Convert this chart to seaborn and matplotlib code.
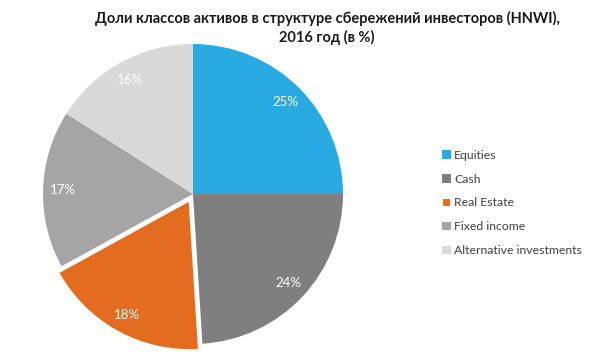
import matplotlib
matplotlib.use('Agg')
import matplotlib.pyplot as plt
import seaborn as sns

categories = ['Equities', 'Cash', 'Real Estate', 'Fixed income', 'Alternative investments']
shares = [25, 24, 18, 17, 16]
colors = ['#29ABE2', '#7F7F7F', '#E36C21', '#A5A5A5', '#D9D9D9']
explode = [0, 0, 0.047, 0, 0]
title = 'Доли классов активов в структуре сбережений инвесторов (HNWI),\n2016 год (в %)'

sns.set_theme(style='white')
plt.rcParams['font.family'] = ['Lato', 'DejaVu Sans']

fig = plt.figure(figsize=(5.95, 3.54), dpi=100)
# pie box: centre (193,194) px, radius 150 px
ax = fig.add_axes([(193 - 150) / 595, (354 - 194 - 150) / 354, 300 / 595, 300 / 354])

wedges, texts, autotexts = ax.pie(
    shares, colors=colors, startangle=90, counterclock=False,
    explode=explode, autopct='%d%%', pctdistance=0.87,
    wedgeprops=dict(linewidth=0),
    textprops=dict(color='white', fontsize=9.5))
wedges[2].set_edgecolor('white')
wedges[2].set_linewidth(1.5)
ax.set_xlim(-1, 1)
ax.set_ylim(-1, 1)
ax.set_aspect('equal')

fig.text(327 / 595, 1 - 28 / 354, title, ha='center', va='center',
         fontsize=10.5, fontweight='bold', color='#1a1a1a', linespacing=1.25)

leg = fig.legend(wedges, categories, loc='center left',
                 bbox_to_anchor=(442 / 595, 1 - 203 / 354),
                 frameon=False, fontsize=8.8, handlelength=0.7, handleheight=0.7,
                 handletextpad=0.3, labelspacing=1.05, borderpad=0, borderaxespad=0)
for t in leg.get_texts():
    t.set_color('#404040')

fig.savefig('out.png', dpi=100)
